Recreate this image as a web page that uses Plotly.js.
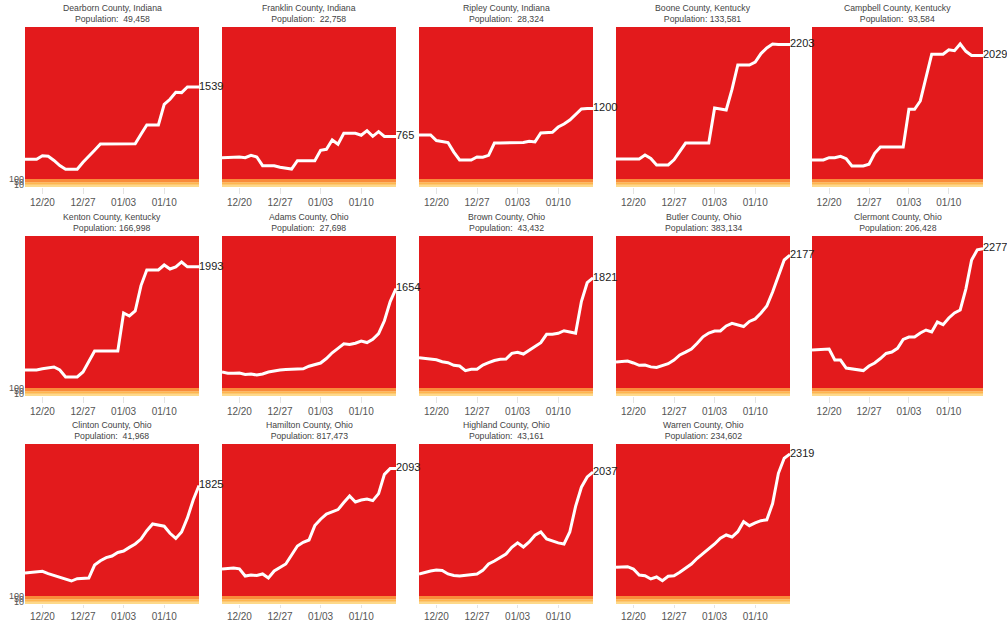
<!DOCTYPE html>
<html>
<head>
<meta charset="utf-8">
<script src="https://cdn.plot.ly/plotly-3.0.1.min.js"></script>
<style>
html,body{margin:0;padding:0;background:#fff;}
#chart{width:1007px;height:623px;}
</style>
</head>
<body>
<div id="chart"></div>
<script>
const dates = ['2020-12-17','2020-12-18','2020-12-19','2020-12-20','2020-12-21','2020-12-22','2020-12-23','2020-12-24','2020-12-25','2020-12-26','2020-12-27','2020-12-28','2020-12-29','2020-12-30','2020-12-31','2021-01-01','2021-01-02','2021-01-03','2021-01-04','2021-01-05','2021-01-06','2021-01-07','2021-01-08','2021-01-09','2021-01-10','2021-01-11','2021-01-12','2021-01-13','2021-01-14','2021-01-15','2021-01-16'];

const counties = ['Dearborn County, Indiana','Franklin County, Indiana','Ripley County, Indiana','Boone County, Kentucky','Campbell County, Kentucky','Kenton County, Kentucky','Adams County, Ohio','Brown County, Ohio','Butler County, Ohio','Clermont County, Ohio','Clinton County, Ohio','Hamilton County, Ohio','Highland County, Ohio','Warren County, Ohio'];
const populations = ['49,458','22,758','28,324','133,581','93,584','166,998','27,698','43,432','383,134','206,428','41,968','817,473','43,161','234,602'];

const dearborn = [408,408,408,464,455,390,310,252,252,252,361,450,550,647,647,647,647,647,640,650,800,944,944,944,1267,1345,1455,1450,1539,1539,1539];
const franklin = [433,435,440,444,433,470,444,308,308,308,283,270,256,386,386,386,386,548,564,709,642,814,814,814,783,855,767,839,765,765,765];
const ripley = [787,787,787,700,690,670,520,397,397,397,444,440,470,662,662,662,662,665,670,690,680,819,819,830,912,960,1022,1110,1195,1200,1200];
const boone = [412,412,412,415,412,475,420,319,319,319,400,540,662,662,662,662,662,1209,1190,1178,1500,1881,1881,1881,1928,2060,2147,2209,2203,2203,2203];
const campbell = [397,397,397,433,433,455,417,303,303,303,330,502,600,600,600,600,600,1189,1189,1319,1700,2050,2050,2050,2120,2105,2210,2095,2029,2029,2029];
const kenton = [381,381,381,400,412,428,381,272,272,272,350,506,678,678,678,678,678,1272,1225,1303,1700,1944,1944,1944,2022,1959,1991,2069,1993,1993,1993];
const adams = [350,330,330,334,310,319,303,319,350,370,381,390,397,397,400,440,470,490,560,650,720,790,780,800,834,810,860,950,1150,1450,1654];
const brown = [573,565,555,540,510,495,455,444,370,392,392,459,495,530,550,553,642,658,631,694,750,808,939,939,955,995,975,955,1450,1745,1821];
const butler = [506,515,522,491,455,459,430,420,444,480,537,616,660,710,800,900,959,991,991,1069,1110,1090,1060,1140,1180,1272,1380,1600,1850,2100,2177];
const clermont = [694,700,705,709,537,537,412,400,381,372,444,491,560,640,662,720,860,897,897,959,1006,975,1131,1090,1194,1272,1319,1650,2100,2260,2277];
const clinton = [459,465,475,485,450,420,390,360,334,370,381,381,584,650,700,725,780,803,860,913,990,1120,1225,1210,1190,1080,1000,1100,1320,1600,1825];
const hamilton = [522,530,537,525,412,428,420,444,381,491,540,600,741,881,940,975,1200,1300,1380,1413,1450,1560,1663,1569,1600,1616,1590,1700,2000,2093,2093];
const highland = [444,470,491,505,500,444,420,412,420,428,444,500,600,647,700,756,860,930,866,944,1050,1100,991,960,930,913,1100,1500,1800,1960,2037];
const warren = [548,555,558,522,428,417,366,397,339,408,417,470,540,600,689,760,845,913,1002,1053,1022,1105,1261,1198,1241,1277,1290,1545,2017,2253,2319];

const series = [dearborn,franklin,ripley,boone,campbell,kenton,adams,brown,butler,clermont,clinton,hamilton,highland,warren];

const tickDates = ['2020-12-20','2020-12-27','2021-01-03','2021-01-10'];
const tickLabels = ['12/20','12/27','01/03','01/10'];
const bandEdges = [10,50,100];
const bandLabels = ['10','50','100'];

const W = 1007, H = 623;
const colLeft = [25,222,419,616,812];
const colWidth = [174,174,174,174,171];
const rowTop = [27,236,444];
const rowTickLen = [6,6,3];
const panelH = 160;
const yRange = [-25,2475];

const traces = [];
const layout = {
  width: W, height: H,
  margin: {l:0,r:0,t:0,b:0},
  paper_bgcolor: '#fff',
  plot_bgcolor: '#fff',
  showlegend: false,
  font: {family: 'Liberation Sans, Arial, sans-serif', color: '#444'},
  shapes: [],
  annotations: []
};

series.forEach((vals, k) => {
  const row = Math.floor(k/5), col = k % 5;
  const sfx = k === 0 ? '' : String(k+1);
  const xa = 'x'+sfx, ya = 'y'+sfx;
  const x0 = colLeft[col]/W, x1 = (colLeft[col]+colWidth[col])/W;
  const y1 = 1 - rowTop[row]/H, y0 = 1 - (rowTop[row]+panelH)/H;
  layout['xaxis'+sfx] = {
    domain:[x0,x1], anchor: ya, type:'date',
    range:[dates[0], dates[dates.length-1]],
    tickvals: tickDates, ticktext: tickLabels,
    ticks:'outside', ticklen:rowTickLen[row], tickcolor:'#e4e4e4', tickwidth:1,
    showgrid:false, zeroline:false, showline:false,
    tickfont:{size:10, color:'#555'}
  };
  layout['yaxis'+sfx] = {
    domain:[y0,y1], anchor: xa, range: yRange, fixedrange:true,
    tickvals: bandEdges, ticktext: bandLabels,
    showticklabels: col === 0, ticks:'',
    showgrid:false, zeroline:false, showline:false,
    tickfont:{size:9, color:'#555'}
  };
  const bands = [
    {y0:yRange[0], y1:bandEdges[0], c:'#fdd98a'},
    {y0:bandEdges[0], y1:bandEdges[1], c:'#fdb64e'},
    {y0:bandEdges[1], y1:bandEdges[2], c:'#f98b3a'},
    {y0:bandEdges[2], y1:yRange[1], c:'#e31a1c'}
  ];
  bands.forEach(b => layout.shapes.push({
    type:'rect', xref: xa+' domain', yref: ya, x0:0, x1:1, y0:b.y0, y1:b.y1,
    fillcolor:b.c, line:{width:0}, layer:'below'
  }));
  const pop = populations[k];
  const popText = 'Population: ' + (pop.length < 7 ? '\u00a0' : '') + pop;
  layout.annotations.push({
    xref: xa+' domain', yref: ya+' domain', x:0.5, y:1, yanchor:'bottom', xanchor:'center',
    yshift: 1, showarrow:false, align:'center',
    text: counties[k] + '<br>' + popText,
    font:{size:8.7, color:'#444'}
  });
  const txt = vals.map((v,i) => i === vals.length-1 ? String(v) : '');
  traces.push({
    type:'scatter', mode:'lines+text', x: dates, y: vals, xaxis: xa, yaxis: ya,
    line:{color:'#ffffff', width:3},
    text: txt, textposition:'middle right', cliponaxis:false,
    textfont:{size:11, color:'#222'},
    hoverinfo:'skip'
  });
});

Plotly.newPlot('chart', traces, layout, {staticPlot:true, displayModeBar:false});
</script>
</body>
</html>
